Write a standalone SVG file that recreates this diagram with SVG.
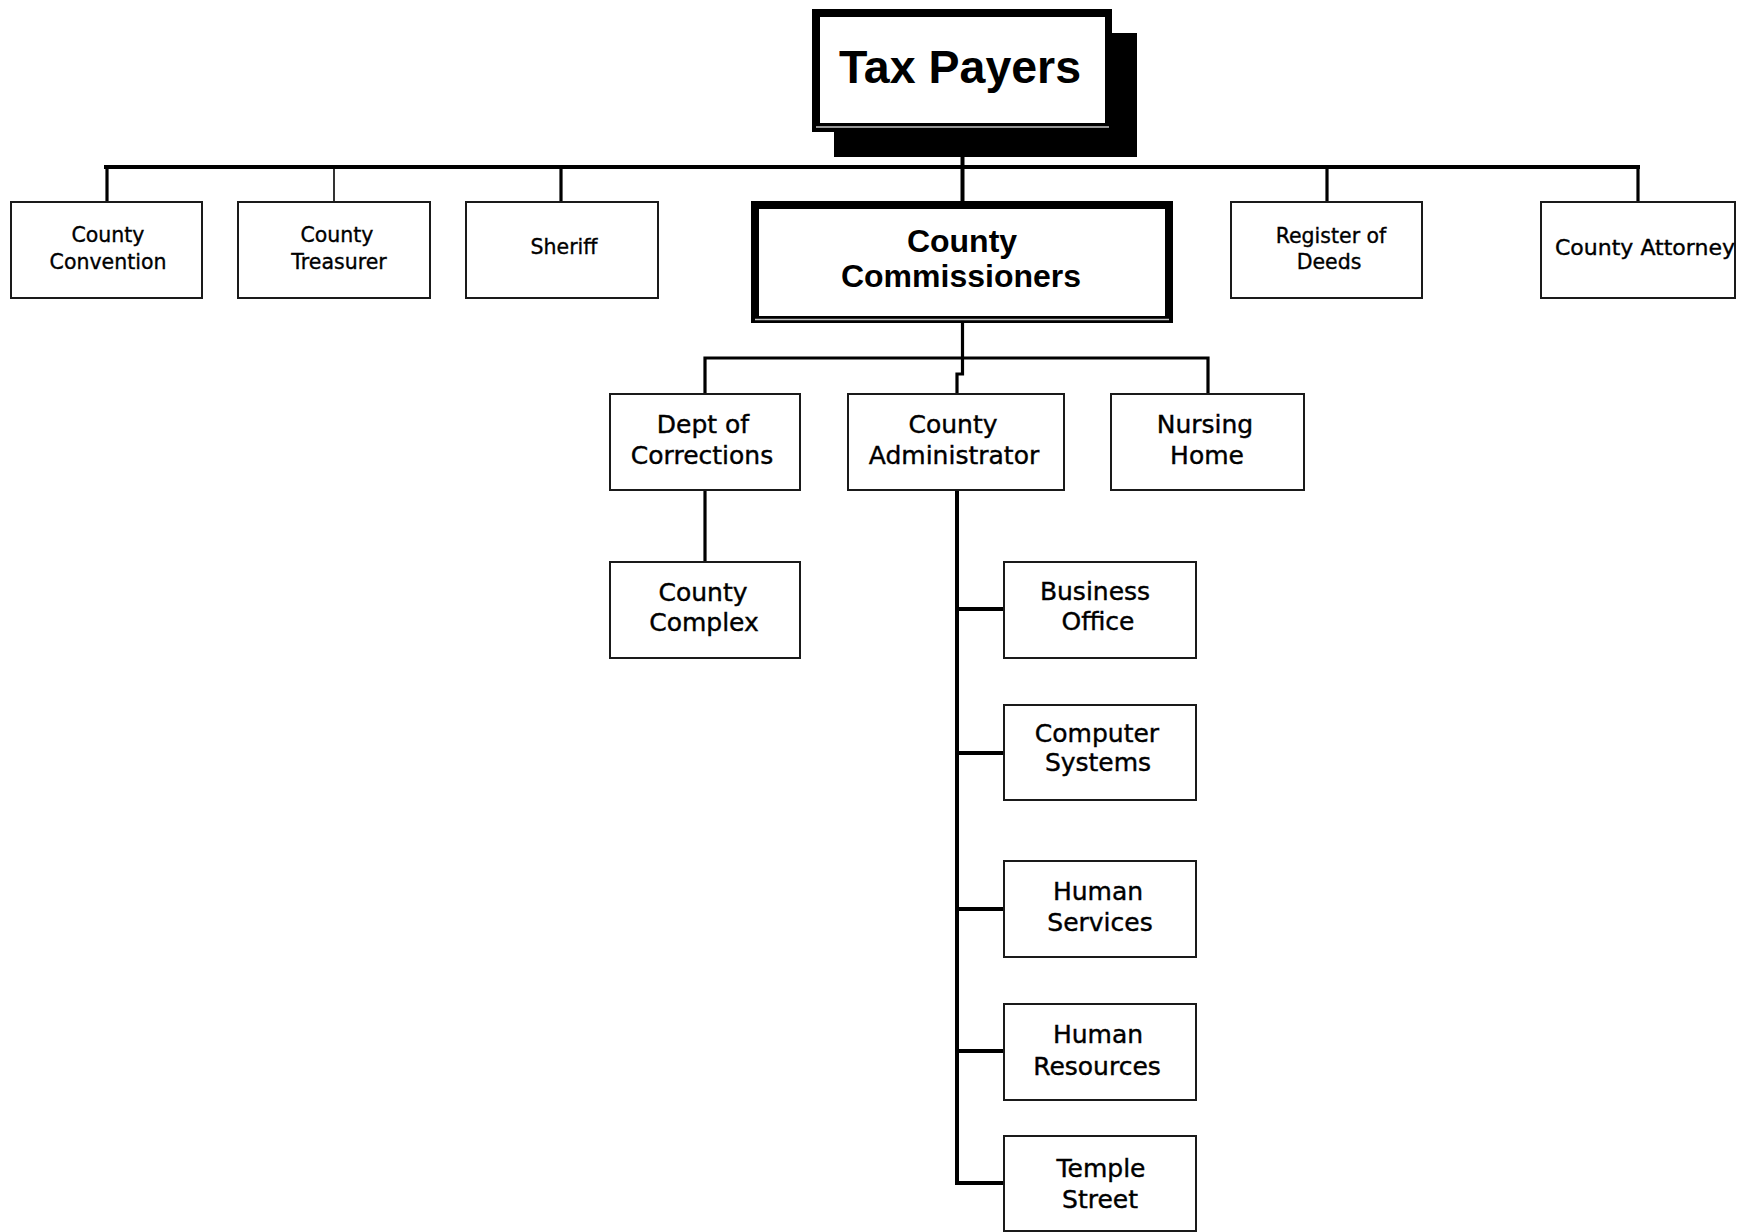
<svg xmlns="http://www.w3.org/2000/svg" width="1749" height="1232" viewBox="0 0 1749 1232">
<style>
.bg{fill:#fff}
.box{fill:#fff;stroke:#1a1a1a;stroke-width:2}
.t1{font-family:"DejaVu Sans",Verdana,sans-serif;font-size:20.5px;fill:#000;stroke:#000;stroke-width:0.35;text-anchor:middle}
.t2{font-family:"DejaVu Sans",Verdana,sans-serif;font-size:25px;fill:#000;stroke:#000;stroke-width:0.4;text-anchor:middle}
.tb{font-family:"Liberation Sans",Arial,sans-serif;font-weight:bold;fill:#000;text-anchor:middle}
.c{fill:none;stroke:#000;stroke-linecap:butt;stroke-linejoin:miter}
.thick{stroke-width:4}
.med{stroke-width:3.2}
.thin{stroke-width:1.6}
</style>
<rect class="bg" x="0" y="0" width="1749" height="1232"/>

<g id="connectors">
  <line class="c thick" x1="104" y1="167" x2="1640" y2="167"/>
  <line class="c thick" x1="962.5" y1="150" x2="962.5" y2="202"/>
  <line class="c med" x1="107" y1="167" x2="107" y2="203"/>
  <line class="c thin" x1="334" y1="167" x2="334" y2="203"/>
  <line class="c med" x1="561" y1="167" x2="561" y2="203"/>
  <line class="c med" x1="1327" y1="167" x2="1327" y2="203"/>
  <line class="c med" x1="1638" y1="167" x2="1638" y2="203"/>
  <path class="c med" d="M962.5,322 V374 H957 V395"/>
  <path class="c med" d="M705,395 V358 H1208 V395"/>
  <line class="c med" x1="705" y1="489" x2="705" y2="563"/>
  <path class="c thick" d="M957,489 V1183 H1004"/>
  <line class="c thick" x1="957" y1="609" x2="1004" y2="609"/>
  <line class="c thick" x1="957" y1="753" x2="1004" y2="753"/>
  <line class="c thick" x1="957" y1="909" x2="1004" y2="909"/>
  <line class="c thick" x1="957" y1="1051" x2="1004" y2="1051"/>
</g>

<g id="tax-payers">
  <rect x="834" y="33" width="303" height="124" fill="#000"/>
  <rect x="812" y="9" width="300" height="123" fill="#000"/>
  <rect x="820" y="17" width="285" height="106" fill="#fff"/>
  <line x1="816" y1="127" x2="1109" y2="127" stroke="#c8c8c8" stroke-width="1.5"/>
  <text class="tb" x="960" y="83" font-size="46.5">Tax Payers</text>
</g>

<g id="county-convention">
  <rect class="box" x="11" y="202" width="191" height="96"/>
  <text class="t1" x="108" y="242">County</text>
  <text class="t1" x="108" y="269">Convention</text>
</g>
<g id="county-treasurer">
  <rect class="box" x="238" y="202" width="192" height="96"/>
  <text class="t1" x="337" y="242">County</text>
  <text class="t1" x="339" y="269">Treasurer</text>
</g>
<g id="sheriff">
  <rect class="box" x="466" y="202" width="192" height="96"/>
  <text class="t1" x="564" y="254">Sheriff</text>
</g>

<g id="county-commissioners">
  <rect x="751" y="201" width="422" height="122" fill="#000"/>
  <rect x="759" y="209" width="406" height="107" fill="#fff"/>
  <line x1="755" y1="319.5" x2="1169" y2="319.5" stroke="#c8c8c8" stroke-width="1.5"/>
  <text class="tb" x="962" y="252" font-size="32">County</text>
  <text class="tb" x="961" y="287" font-size="32">Commissioners</text>
</g>

<g id="register-of-deeds">
  <rect class="box" x="1231" y="202" width="191" height="96"/>
  <text class="t1" x="1331" y="243" font-size="21">Register of</text>
  <text class="t1" x="1329" y="269" font-size="21">Deeds</text>
</g>
<g id="county-attorney">
  <rect class="box" x="1541" y="202" width="194" height="96"/>
  <text class="t1" x="1555" y="255" style="text-anchor:start" font-size="21.5" textLength="180" lengthAdjust="spacingAndGlyphs">County Attorney</text>
</g>

<g id="dept-of-corrections">
  <rect class="box" x="610" y="394" width="190" height="96"/>
  <text class="t2" x="703" y="433">Dept of</text>
  <text class="t2" x="702" y="464">Corrections</text>
</g>
<g id="county-administrator">
  <rect class="box" x="848" y="394" width="216" height="96"/>
  <text class="t2" x="953" y="433">County</text>
  <text class="t2" x="954" y="464">Administrator</text>
</g>
<g id="nursing-home">
  <rect class="box" x="1111" y="394" width="193" height="96"/>
  <text class="t2" x="1205" y="433">Nursing</text>
  <text class="t2" x="1207" y="464">Home</text>
</g>

<g id="county-complex">
  <rect class="box" x="610" y="562" width="190" height="96"/>
  <text class="t2" x="703" y="601">County</text>
  <text class="t2" x="704" y="631">Complex</text>
</g>

<g id="business-office">
  <rect class="box" x="1004" y="562" width="192" height="96"/>
  <text class="t2" x="1095" y="600">Business</text>
  <text class="t2" x="1098" y="630">Office</text>
</g>
<g id="computer-systems">
  <rect class="box" x="1004" y="705" width="192" height="95"/>
  <text class="t2" x="1097" y="742">Computer</text>
  <text class="t2" x="1098" y="771">Systems</text>
</g>
<g id="human-services">
  <rect class="box" x="1004" y="861" width="192" height="96"/>
  <text class="t2" x="1098" y="900">Human</text>
  <text class="t2" x="1100" y="931">Services</text>
</g>
<g id="human-resources">
  <rect class="box" x="1004" y="1004" width="192" height="96"/>
  <text class="t2" x="1098" y="1043">Human</text>
  <text class="t2" x="1097" y="1075">Resources</text>
</g>
<g id="temple-street">
  <rect class="box" x="1004" y="1136" width="192" height="95"/>
  <text class="t2" x="1101" y="1177">Temple</text>
  <text class="t2" x="1100" y="1208">Street</text>
</g>
</svg>
